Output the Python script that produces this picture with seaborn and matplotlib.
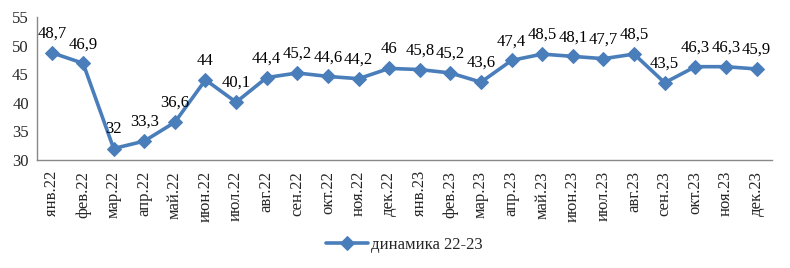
import matplotlib
matplotlib.use("Agg")
import matplotlib.pyplot as plt
import seaborn as sns
import pandas as pd

months = ["янв.22", "фев.22", "мар.22", "апр.22", "май.22", "июн.22", "июл.22", "авг.22",
          "сен.22", "окт.22", "ноя.22", "дек.22", "янв.23", "фев.23", "мар.23", "апр.23",
          "май.23", "июн.23", "июл.23", "авг.23", "сен.23", "окт.23", "ноя.23", "дек.23"]
values = [48.7, 46.9, 32, 33.3, 36.6, 44, 40.1, 44.4, 45.2, 44.6, 44.2, 46,
          45.8, 45.2, 43.6, 47.4, 48.5, 48.1, 47.7, 48.5, 43.5, 46.3, 46.3, 45.9]
series_name = "динамика 22-23"

sns.set_style("white")
plt.rcParams['font.family'] = ['Liberation Serif', 'DejaVu Serif']

df = pd.DataFrame({"pos": range(len(months)), "val": values})

fig = plt.figure(figsize=(7.9, 2.68), dpi=100)
ax = fig.add_axes([0.047, 0.403, 0.93, 0.534])
color = "#4a7ebb"
sns.lineplot(data=df, x="pos", y="val", ax=ax, color=color, linewidth=2.6,
             marker="D", markersize=7.5, markeredgecolor=color, label=series_name)

for i, v in enumerate(values):
    txt = f"{v:g}".replace(".", ",")
    ax.annotate(txt, (i, v), xytext=(0, 8), textcoords="offset points",
                ha="center", va="bottom", fontsize=12, color="black")

ax.set_xlim(-0.5, len(months) - 0.5)
ax.set_ylim(30, 55)
ax.set_yticks([30, 35, 40, 45, 50, 55])
ax.set_xticks(range(len(months)))
ax.set_xticklabels(months, rotation=90, fontsize=12)
ax.tick_params(axis="y", labelsize=12, length=0, pad=6)
ax.tick_params(axis="x", length=0, pad=8)
ax.set_xlabel("")
ax.set_ylabel("")
for s in ["top", "right"]:
    ax.spines[s].set_visible(False)
for s in ["left", "bottom"]:
    ax.spines[s].set_color("#888888")
    ax.spines[s].set_linewidth(1)

ax.legend(loc="center", bbox_to_anchor=(0.5, -0.595), frameon=False,
          fontsize=12, handlelength=2.5, handletextpad=0.2)

fig.savefig("out.png", dpi=100)
